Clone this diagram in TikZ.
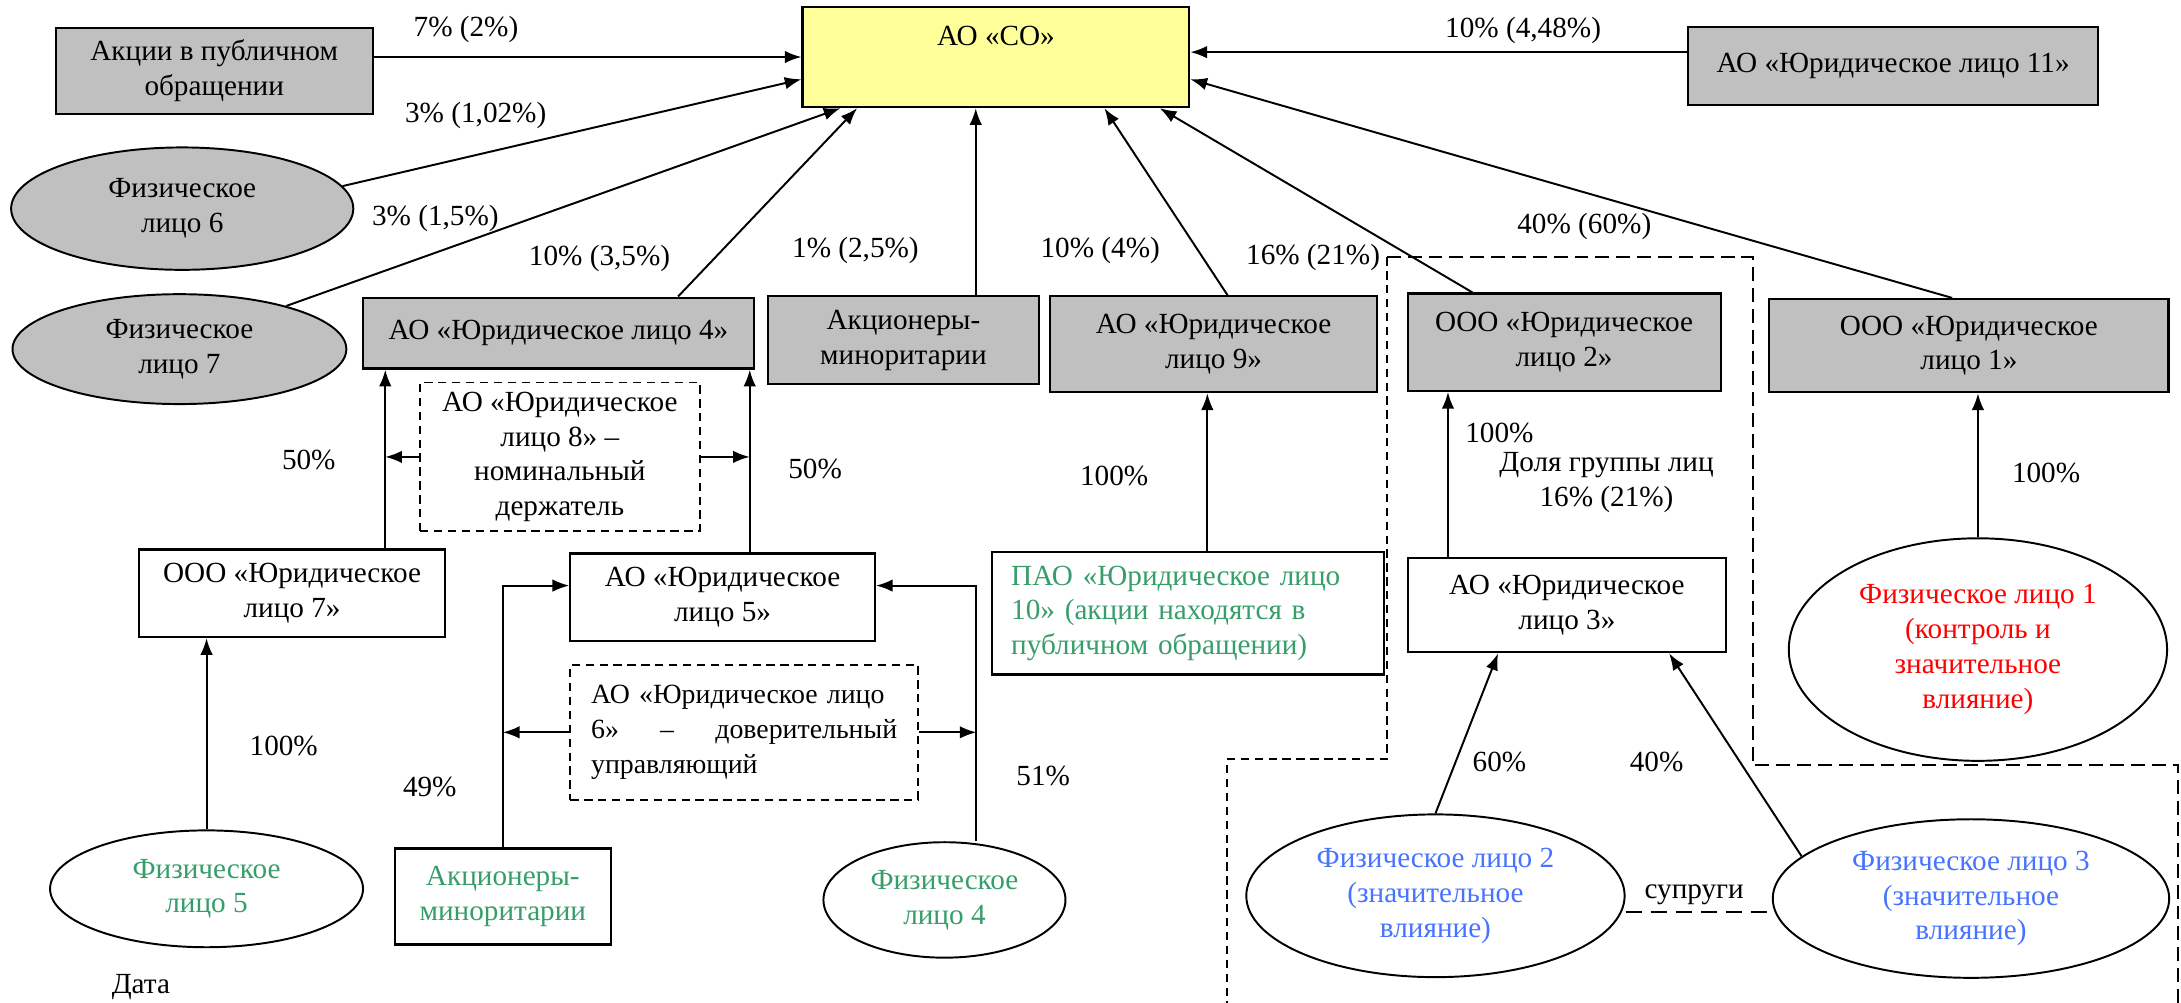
\documentclass[tikz,border=0pt]{standalone}
\usepackage{fontspec}
\setmainfont{Liberation Serif}
\usetikzlibrary{shapes.geometric,arrows.meta}

\definecolor{boxgray}{RGB}{192,192,192}
\definecolor{soyellow}{RGB}{255,255,153}
\definecolor{fgreen}{RGB}{55,158,105}
\definecolor{fblue}{RGB}{70,115,255}

\tikzset{
    gbox/.style={rectangle,draw,line width=0.8pt,fill=boxgray,align=center},
    wbox/.style={rectangle,draw,line width=0.8pt,fill=white,align=center},
    dbox/.style={rectangle,draw,line width=0.7pt,dash pattern=on 3pt off 2pt,align=center},
    gell/.style={ellipse,draw,line width=0.7pt,fill=boxgray,inner sep=0pt,align=center},
    well/.style={ellipse,draw,line width=0.7pt,fill=white,inner sep=0pt,align=center},
}

\begin{document}
\begin{tikzpicture}[x=0.5pt,y=-0.5pt,font=\fontsize{10.5}{12.5}\selectfont,
    >={Latex[length=6pt,width=4.5pt]},line width=0.7pt]

    \useasboundingbox (0,0) rectangle (1568,721);

    % Dashed group borders
    \draw[dash pattern=on 5pt off 2.5pt] (997,185) -- (1260,185) -- (1260,550) -- (1566,550) -- (1566,730);
    \draw[dash pattern=on 3pt off 2pt] (997,185) -- (997,546) -- (882,546) -- (882,730);

    \begin{scope}[every node/.style={gbox}]
        \node[minimum width=114pt,minimum height=31pt] (aktsii) at (154,51) {Акции в публичном\\обращении};
        \node[fill=soyellow,minimum width=139pt,minimum height=36pt] (so) at (716,41) {};
        \node[minimum width=147.5pt,minimum height=28pt] (yul11) at (1361,47.5) {АО «Юридическое лицо 11»};
        \node[minimum width=140.5pt,minimum height=25.5pt] (yul4) at (401.5,239.5) {АО «Юридическое лицо 4»};
        \node[minimum width=97.5pt,minimum height=31.5pt] (minor1) at (649.5,244.5) {Акционеры-\\миноритарии};
        \node[minimum width=117.5pt,minimum height=34.5pt] (yul9) at (872.5,247.5) {АО «Юридическое\\лицо 9»};
        \node[minimum width=112.5pt,minimum height=35pt] (yul2) at (1124.5,246) {ООО «Юридическое\\лицо 2»};
        \node[minimum width=143.5pt,minimum height=33.5pt] (yul1) at (1415.5,248.5) {ООО «Юридическое\\лицо 1»};
    \end{scope}
    \node (sotxt) at (716,26) {АО «СО»};

    \node[gell,minimum width=123pt,minimum height=44pt] (fl6) at (131,150) {Физическое\\лицо 6};
    \node[gell,minimum width=120pt,minimum height=39.5pt] (fl7) at (129,251) {Физическое\\лицо 7};

    \begin{scope}[every node/.style={wbox}]
        \node[minimum width=110pt,minimum height=31.5pt] (yul7) at (210,426.5) {ООО «Юридическое\\лицо 7»};
        \node[minimum width=109.5pt,minimum height=31.5pt] (yul5) at (519.5,429.5) {АО «Юридическое\\лицо 5»};
        \node[minimum width=114.5pt,minimum height=34pt] (yul3) at (1126.5,435) {АО «Юридическое\\лицо 3»};
        \node[text=fgreen,align=left,text width=127pt,inner xsep=7pt,minimum height=44pt] (yul10) at (854,441) {ПАО «Юридическое лицо\\10» (акции находятся в\\публичном обращении)};
        \node[text=fgreen,minimum width=77.5pt,minimum height=34.5pt] (minor2) at (361.5,644.5) {Акционеры-\\миноритарии};
    \end{scope}

    \node[dbox,inner ysep=1pt,minimum width=100.5pt,minimum height=53.5pt] (yul8) at (402.5,328.5) {АО «Юридическое\\лицо 8» –\\номинальный\\держатель};
    \node[dbox,font=\fontsize{10}{12.5}\selectfont,align=left,text width=110pt,inner xsep=7.5pt,minimum height=48.5pt] (yul6) at (535,526.5) {\mbox{АО «Юридическое лицо}\\\makebox[110pt]{6»\hfill–\hfill доверительный}\\управляющий};

    \node[well,text=red,minimum width=136pt,minimum height=80pt] (fl1) at (1422,467) {Физическое лицо 1\\(контроль и\\значительное\\влияние)};
    \node[well,text=fblue,minimum width=136pt,minimum height=58.5pt] (fl2) at (1032,644) {Физическое лицо 2\\(значительное\\влияние)};
    \node[well,text=fblue,minimum width=142.5pt,minimum height=57pt] (fl3) at (1417,646) {Физическое лицо 3\\(значительное\\влияние)};
    \node[well,text=fgreen,minimum width=112.5pt,minimum height=42pt] (fl5) at (148.5,639) {Физическое\\лицо 5};
    \node[well,text=fgreen,minimum width=87pt,minimum height=41.5pt] (fl4) at (679,647) {Физическое\\лицо 4};

    \node[anchor=base west] (data) at (73,714) {Дата};

    % Shares
    \node (lb1) at (335,21) {7\% (2\%)};
    \node (lb2) at (342,83) {3\% (1,02\%)};
    \node (lb3) at (313,157) {3\% (1,5\%)};
    \node (lb4) at (431,186) {10\% (3,5\%)};
    \node (lb5) at (615,180) {1\% (2,5\%)};
    \node (lb6) at (791,180) {10\% (4\%)};
    \node (lb7) at (944,185) {16\% (21\%)};
    \node (lb8) at (1139,163) {40\% (60\%)};
    \node (lb9) at (1095,22) {10\% (4,48\%)};
    \node (lb10) at (222,331) {50\%};
    \node (lb11) at (586,337) {50\%};
    \node (lb12) at (801,342) {100\%};
    \node (lb13) at (1078,311) {100\%};
    \node[align=center] (grp) at (1155,347) {Доля группы лиц\\16\% (21\%)};
    \node (lb14) at (1471,340) {100\%};
    \node (lb15) at (204,536) {100\%};
    \node (lb16) at (309,566) {49\%};
    \node (lb17) at (750,558) {51\%};
    \node (lb18) at (1078,548) {60\%};
    \node (lb19) at (1191,548) {40\%};
    \node (sup) at (1218,643) {супруги};

    % Links to AO SO
    \draw[->] (aktsii.east |- so.west) -- (so.west);
    \draw[->] (fl6.8) -- ([yshift=-8pt]so.west);
    \draw[->] (fl7.22) -- ([xshift=14pt]so.south west);
    \draw[->] ([xshift=43pt]yul4.north) -- ([xshift=20pt]so.south west);
    \draw[->] ([xshift=26pt]minor1.north) -- ([xshift=26pt]minor1.north |- so.south);
    \draw[->] ([xshift=5pt]yul9.north) -- ([xshift=39pt]so.south);
    \draw[->] ([xshift=-33pt]yul2.north) -- ([xshift=-11pt]so.south east);
    \draw[->] ([xshift=-6pt]yul1.north) -- ([yshift=-8pt]so.east);
    \draw[->] ([yshift=5pt]yul11.west) -- ([yshift=5pt]yul11.west -| so.east);

    % Lower levels
    \coordinate (l7) at ([xshift=33.5pt]yul7.north);
    \coordinate (l5) at ([xshift=9.75pt]yul5.north);
    \coordinate (l4) at ([xshift=11.5pt]fl4.north);
    \draw[->] (l7) -- (l7 |- yul4.south);
    \draw[->] (l5) -- (l5 |- yul4.south);
    \draw[->] (yul8.west) -- (yul8.west -| l7);
    \draw[->] (yul8.east) -- (yul8.east -| l5);
    \draw[->] (fl5.north) -- (fl5.north |- yul7.south);
    \draw[->] (minor2.north) |- ([yshift=4.25pt]yul5.west);
    \draw[->] (l4) |- ([yshift=4.25pt]yul5.east);
    \draw[->] (yul6.west) -- (yul6.west -| minor2.north);
    \draw[->] (yul6.east) -- (yul6.east -| l4);
    \draw[->] ([xshift=7pt]yul10.north) -- ([xshift=7pt]yul10.north |- yul9.south);
    \draw[->] ([xshift=-42.75pt]yul3.north) -- ([xshift=-42.75pt]yul3.north |- yul2.south);
    \draw[->] (fl1.north) -- (fl1.north |- yul1.south);
    \draw[->] (fl2.north) -- ([xshift=-24.75pt]yul3.south);
    \draw[->] (fl3.166) -- ([xshift=36.75pt]yul3.south);
    \draw[dash pattern=on 6pt off 3pt] ([yshift=-6pt]fl2.east) -- ([yshift=-6pt]fl2.east -| fl3.west);

\end{tikzpicture}
\end{document}
